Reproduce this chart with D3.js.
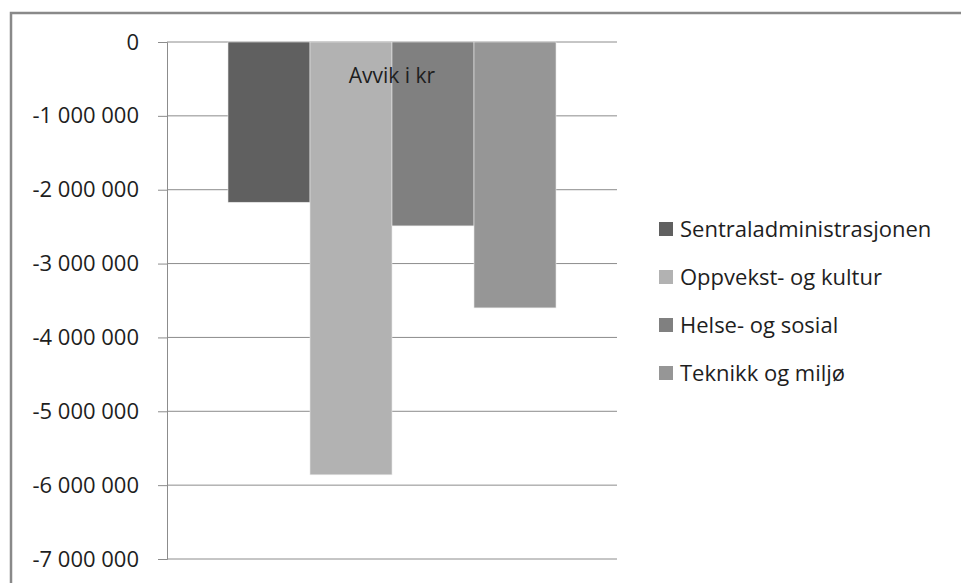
<!DOCTYPE html>
<html lang="no">
<head>
<meta charset="UTF-8">
<script src="https://cdn.jsdelivr.net/npm/d3@7"></script>
<title>Avvik i kr</title>
<style>
  body { margin: 0; background: #fff; }
  svg text { font-family: "Open Sans", "Liberation Sans", sans-serif; fill: #1e1e1e; }
</style>
</head>
<body>
<script>
  // data
  let categories = ["Sentraladministrasjonen", "Oppvekst- og kultur", "Helse- og sosial", "Teknikk og miljø"];
  let values = [-2170000, -5860000, -2490000, -3600000];
  let colors = ["#606060", "#b2b2b2", "#808080", "#969696"];
  let yTicks = [0, -1000000, -2000000, -3000000, -4000000, -5000000, -6000000, -7000000];

  var width = 961, height = 583;
  var plotLeft = 167, plotRight = 617, plotTop = 42, plotBottom = 559;

  var svg = d3.select("body").append("svg")
    .attr("width", width)
    .attr("height", height);

  // outer frame
  svg.append("rect")
    .attr("x", 11).attr("y", 13)
    .attr("width", 980).attr("height", 600)
    .attr("fill", "none")
    .attr("stroke", "#898989")
    .attr("stroke-width", 2.5);

  var y = d3.scaleLinear().domain([0, -7000000]).range([plotTop, plotBottom]);
  var x = d3.scaleBand().domain(categories).range([228, 556]).padding(0);

  var nb = d3.formatLocale({ decimal: ",", thousands: " ", grouping: [3], currency: ["", " kr"], minus: "-" });
  var fmt = nb.format(",d");

  // gridlines
  svg.append("g").selectAll("line")
    .data(yTicks)
    .enter().append("line")
    .attr("x1", plotLeft).attr("x2", plotRight)
    .attr("y1", d => y(d)).attr("y2", d => y(d))
    .attr("stroke", "#8c8c8c").attr("stroke-width", 1);

  var axis = svg.append("g")
    .attr("transform", "translate(" + plotLeft + ",0)")
    .call(d3.axisLeft(y).tickValues(yTicks).tickFormat(fmt).tickSize(9).tickPadding(19));
  axis.select(".domain").attr("stroke", "#8c8c8c");
  axis.selectAll(".tick line").attr("stroke", "#8c8c8c");
  axis.selectAll(".tick text")
    .style("font-size", "22px")
    .style("font-family", "'Open Sans', 'Liberation Sans', sans-serif")
    .attr("fill", "#1e1e1e");

  // bars
  svg.append("g").selectAll("rect")
    .data(values)
    .enter().append("rect")
    .attr("x", (d, i) => x(categories[i]))
    .attr("y", y(0))
    .attr("width", x.bandwidth())
    .attr("height", d => y(d) - y(0))
    .attr("fill", (d, i) => colors[i])
    .attr("stroke", "#e8e8e8")
    .attr("stroke-width", 0.6);

  // title inside the plot
  svg.append("text")
    .attr("x", 392).attr("y", 83)
    .attr("text-anchor", "middle")
    .style("font-size", "21px")
    .text("Avvik i kr");

  // legend
  var leg = svg.append("g").selectAll("g")
    .data(categories)
    .enter().append("g")
    .attr("transform", (d, i) => "translate(659," + (229 + i * 48) + ")");
  leg.append("rect")
    .attr("x", 0).attr("y", -7)
    .attr("width", 14).attr("height", 14)
    .attr("fill", (d, i) => colors[i]);
  leg.append("text")
    .attr("x", 21).attr("y", 0)
    .attr("dy", ".35em")
    .style("font-size", "22px")
    .text(d => d);
</script>
</body>
</html>
